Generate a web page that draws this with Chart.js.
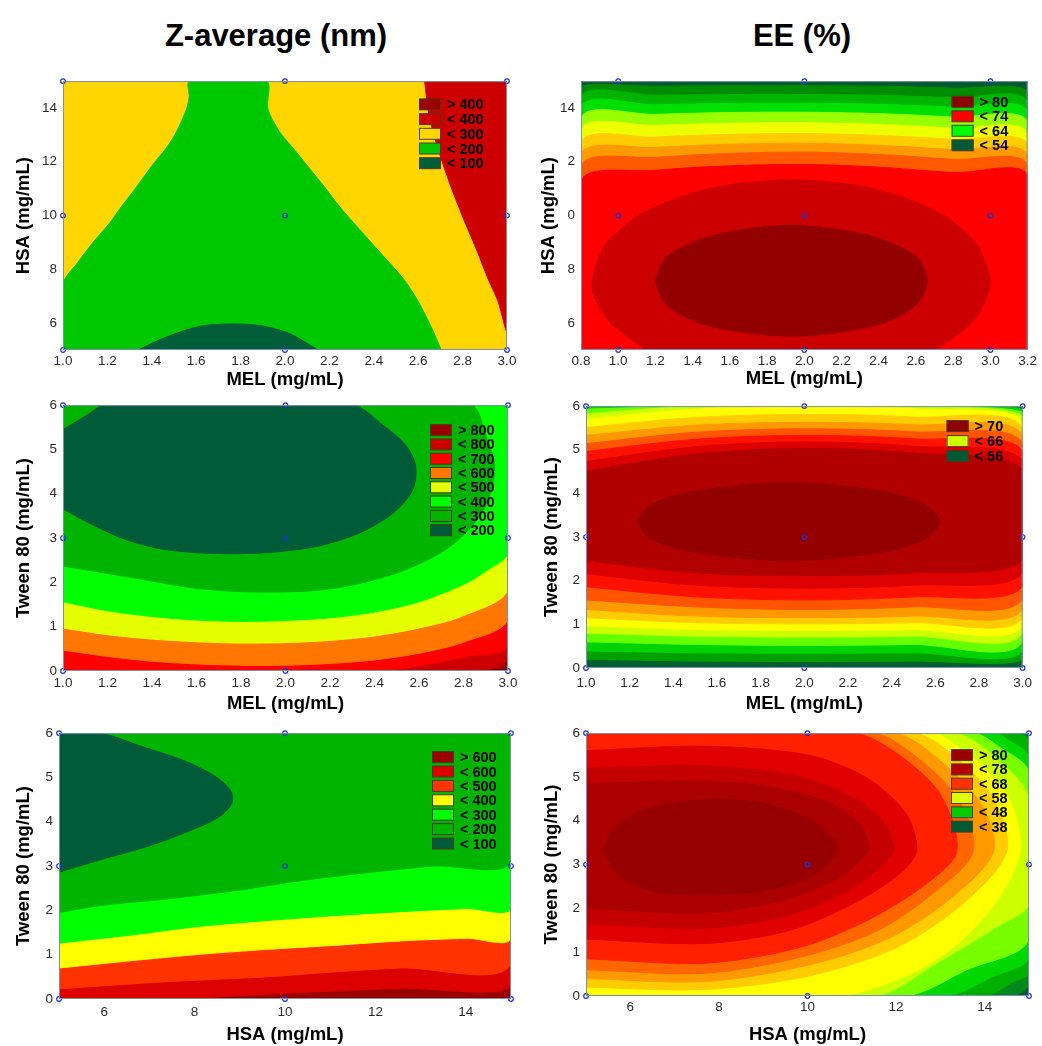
<!DOCTYPE html>
<html>
<head>
<meta charset="utf-8">
<script src="https://cdn.jsdelivr.net/npm/chart.js@4.4.1/dist/chart.umd.min.js"></script>
<style>
  html, body { margin: 0; padding: 0; background: #fff; width: 1042px; height: 1046px; overflow: hidden; position: relative; }
  body { font-family: 'Liberation Sans', Arial, sans-serif; }
  canvas { position: absolute; }
  .title { position: absolute; font-weight: bold; font-size: 31px; color: #000; transform: translate(-50%, -50%); white-space: nowrap; }
</style>
</head>
<body>
<div class="title" style="left:276px;top:36px">Z-average (nm)</div>
<div class="title" style="left:802px;top:36px">EE (%)</div>
<canvas id="cA"></canvas>
<canvas id="cB"></canvas>
<canvas id="cC"></canvas>
<canvas id="cD"></canvas>
<canvas id="cE"></canvas>
<canvas id="cF"></canvas>
<script>
// ---------- data ----------

// A: Z-average, MEL vs HSA
const A_xTicks = [1.0, 1.2, 1.4, 1.6, 1.8, 2.0, 2.2, 2.4, 2.6, 2.8, 3.0];
const A_yTicks = [6, 8, 10, 12, 14];
const A_legend = ['> 400', '< 400', '< 300', '< 200', '< 100'];
const A_design = [[1,5],[2,5],[3,5],[1,10],[2,10],[3,10],[1,15],[2,15],[3,15]];
const A_all = [[1,5],[3,5],[3,15],[1,15]];
const A_green = [[1,5],[1,7.45],[1.068,8.27],[1.135,9.0],[1.21,9.72],[1.263,10.33],[1.33,11.05],[1.405,11.9],
  [1.465,12.51],[1.511,13.11],[1.556,13.96],[1.568,14.4],[1.571,15],[1.916,15],[1.923,13.96],[1.976,13.11],
  [2.036,12.51],[2.096,11.9],[2.179,11.05],[2.246,10.33],[2.336,9.48],[2.441,8.51],[2.532,7.66],[2.599,6.82],
  [2.659,5.85],[2.704,5]];
const A_red = [[2.629,15],[2.644,13.96],[2.667,13.11],[2.727,11.54],[2.80,9.96],[2.862,8.75],[2.914,7.66],
  [2.959,6.82],[3.0,5.73],[3,15]];
const A_dark = [[1.338,5],[1.465,5.48],[1.616,5.88],[1.751,5.97],[1.886,5.91],[2.021,5.61],[2.149,5]];

// B: EE, MEL vs HSA
const B_xTicks = [0.8, 1.0, 1.2, 1.4, 1.6, 1.8, 2.0, 2.2, 2.4, 2.6, 2.8, 3.0, 3.2];
const B_yTicks = [6, 8, 10, 12, 14];
const B_yText = ['6', '8', '0', '2', '14'];
const B_legend = ['> 80', '< 74', '< 64', '< 54'];
const B_design = [[1,5],[2,5],[3,5],[1,10],[2,10],[3,10],[1,15],[2,15],[3,15]];
const B_all = [[0.8,5],[3.2,5],[3.2,15],[0.8,15]];
const B_xs = [0.8, 1.2, 1.6, 2.0, 2.4, 2.8, 3.2];
const B_arcs = [
  [14.76,14.81,14.83,14.83,14.81,14.74,14.58],
  [14.40,14.47,14.50,14.50,14.47,14.38,14.20],
  [14.02,14.12,14.17,14.18,14.14,14.03,13.84],
  [13.62,13.76,13.83,13.84,13.79,13.66,13.46],
  [13.18,13.35,13.43,13.45,13.39,13.25,13.04],
  [12.72,12.92,13.02,13.05,12.98,12.83,12.62],
  [12.28,12.53,12.65,12.69,12.61,12.45,12.24],
  [11.85,12.16,12.31,12.36,12.27,12.09,11.88],
  [11.30,11.68,11.85,11.90,11.80,11.60,11.50]
];
const B_ring = [[1.15,5],[0.96,6],[0.87,7.0],[0.86,7.57],[0.90,8.5],[0.94,9],[1.11,10],[1.34,10.7],[1.56,11.1],
  [1.93,11.33],[2.30,11.1],[2.52,10.7],[2.75,10],[2.92,9],[2.97,8.3],[3.0,7.57],[2.97,6.8],[2.90,6],[2.71,5]];
const B_core = [[1.20,7.57],[1.25,8.4],[1.40,9.0],[1.60,9.4],[1.93,9.64],[2.26,9.4],[2.46,9.0],[2.61,8.4],
  [2.66,7.57],[2.61,6.75],[2.46,6.1],[2.26,5.73],[1.93,5.51],[1.60,5.73],[1.40,6.1],[1.25,6.75],[1.20,7.57]];

// C: Z-average, MEL vs Tween 80
const C_xTicks = [1.0, 1.2, 1.4, 1.6, 1.8, 2.0, 2.2, 2.4, 2.6, 2.8, 3.0];
const C_yTicks = [0, 1, 2, 3, 4, 5, 6];
const C_legend = ['> 800', '< 800', '< 700', '< 600', '< 500', '< 400', '< 300', '< 200'];
const C_design = [[1,0],[2,0],[3,0],[1,3],[2,3],[3,3],[1,6],[2,6],[3,6]];
const C_all = [[1,0],[3,0],[3,6],[1,6]];
const C_lt800 = [[1,0],[2.84,0],[3.0,0.31],[3,6],[1,6]];
const C_lt700 = [[1,0],[2.41,0],[2.6,0.12],[2.8,0.32],[3.0,0.60],[3,6],[1,6]];
const C_lt600 = [[1,0.47],[1.2,0.33],[1.4,0.22],[1.6,0.16],[1.8,0.13],[2.0,0.13],[2.2,0.17],[2.4,0.25],
  [2.6,0.4],[2.8,0.65],[3.0,1.19],[3,6],[1,6]];
const C_lt500 = [[1,0.97],[1.2,0.82],[1.4,0.72],[1.6,0.66],[1.8,0.63],[2.0,0.64],[2.2,0.69],[2.4,0.79],
  [2.6,0.97],[2.8,1.25],[3.0,1.86],[3,6],[1,6]];
const C_lt400 = [[1,1.56],[1.2,1.36],[1.4,1.23],[1.6,1.15],[1.8,1.12],[2.0,1.14],[2.2,1.2],[2.4,1.33],
  [2.6,1.56],[2.8,1.95],[2.9,2.25],[3.0,2.68],[3,6],[1,6]];
const C_lt300 = [[1,2.37],[1.31,2.11],[1.61,1.86],[1.91,1.78],[2.21,1.86],[2.51,2.23],[2.74,2.81],[2.89,3.63],
  [2.94,4.58],[2.90,5.3],[2.83,6],[1,6]];
const C_lt200 = [[1,3.66],[1.12,3.33],[1.285,2.96],[1.46,2.74],[1.69,2.65],[1.91,2.67],[2.14,2.81],[2.33,3.11],
  [2.48,3.55],[2.57,4.07],[2.585,4.62],[2.54,5.10],[2.44,5.54],[2.30,6],[1.19,6],[1.1,5.75],[1,5.45]];

// D: EE, MEL vs Tween 80
const D_xTicks = [1.0, 1.2, 1.4, 1.6, 1.8, 2.0, 2.2, 2.4, 2.6, 2.8, 3.0];
const D_yTicks = [0, 1, 2, 3, 4, 5, 6];
const D_legend = ['> 70', '< 66', '< 56'];
const D_design = [[1,0],[2,0],[3,0],[1,3],[2,3],[3,3],[1,6],[2,6],[3,6]];
const D_all = [[1,0],[3,0],[3,6],[1,6]];
const D_xs = [1.0, 1.5, 2.0, 2.5, 3.0];
const D_lower = [
  [0.20,0.16,0.15,0.16,0.21],
  [0.39,0.35,0.34,0.35,0.40],
  [0.60,0.54,0.52,0.54,0.61],
  [0.80,0.73,0.71,0.73,0.81],
  [0.97,0.88,0.86,0.88,0.98],
  [1.15,1.04,1.01,1.04,1.16],
  [1.34,1.19,1.15,1.19,1.35],
  [1.56,1.40,1.34,1.40,1.57],
  [1.86,1.63,1.56,1.63,1.87],
  [2.16,1.90,1.83,1.90,2.17],
  [2.46,2.18,2.12,2.18,2.47]
];
const D_upper = [
  [6.00,6.00,6.00,6.00,6.00],
  [6.00,6.00,6.00,6.00,5.93],
  [5.93,6.00,6.00,6.00,5.85],
  [5.82,6.00,6.00,6.00,5.76],
  [5.70,5.93,6.00,5.94,5.66],
  [5.51,5.74,5.81,5.75,5.50],
  [5.33,5.56,5.63,5.57,5.34],
  [5.14,5.40,5.48,5.41,5.16],
  [4.96,5.24,5.33,5.25,4.98],
  [4.73,5.07,5.18,5.08,4.76],
  [4.51,4.90,5.03,4.92,4.55]
];
const D_core = [[1.23,3.35],[1.30,3.75],[1.50,4.05],[1.93,4.25],[2.35,4.05],[2.55,3.75],[2.62,3.35],[2.55,2.95],
  [2.35,2.65],[1.93,2.46],[1.50,2.65],[1.30,2.95],[1.23,3.35]];

// E: Z-average, HSA vs Tween 80
const E_xTicks = [6, 8, 10, 12, 14];
const E_yTicks = [0, 1, 2, 3, 4, 5, 6];
const E_legend = ['> 600', '< 600', '< 500', '< 400', '< 300', '< 200', '< 100'];
const E_design = [[5,0],[10,0],[15,0],[5,3],[10,3],[15,3],[5,6],[10,6],[15,6]];
const E_all = [[5,0],[15,0],[15,6],[5,6]];
const E_lt600 = [[5,0],[7.54,0],[9.6,0.11],[11.08,0.18],[12.55,0.24],[15,0.30],[15,6],[5,6]];
const E_lt500 = [[5,0.23],[7.39,0.39],[9.6,0.50],[11.08,0.61],[12.55,0.70],[15,0.79],[15,6],[5,6]];
const E_lt400 = [[5,0.70],[6.65,0.87],[8.13,1.01],[9.6,1.12],[11.08,1.21],[12.55,1.31],[14.03,1.37],[15,1.38],[15,6],[5,6]];
const E_lt300 = [[5,1.26],[6.65,1.45],[8.13,1.64],[9.6,1.77],[11.08,1.88],[12.55,1.97],[14.03,2.04],[15,2.06],[15,6],[5,6]];
const E_lt200 = [[5,1.95],[5.91,2.11],[7.39,2.26],[8.86,2.44],[10.34,2.67],[11.81,2.85],[13.29,3.0],[15,3.08],[15,6],[5,6]];
const E_lt100 = [[5,2.86],[5.91,3.14],[6.95,3.44],[7.83,3.77],[8.53,4.10],[8.83,4.43],[8.79,4.72],[8.42,5.05],
  [7.76,5.38],[6.8,5.71],[5.91,6],[5,6]];

// F: EE, HSA vs Tween 80
const F_xTicks = [6, 8, 10, 12, 14];
const F_yTicks = [0, 1, 2, 3, 4, 5, 6];
const F_legend = ['> 80', '< 78', '< 68', '< 58', '< 48', '< 38'];
const F_design = [[5,0],[10,0],[15,0],[5,3],[10,3],[15,3],[5,6],[10,6],[15,6]];
const F_regions = [
  [[5,0],[15,0],[15,6],[5,6]],
  [[5,0],[14.6,0],[15,0.3],[15,6],[5,6]],
  [[5,0],[14.0,0],[14.6,0.3],[15,0.55],[15,5.8],[14.65,6],[5,6]],
  [[5,0],[13.1,0],[14.2,0.45],[15,0.9],[15,5.45],[14.6,5.8],[14.2,6],[5,6]],
  [[5,0],[12.2,0],[13.6,0.6],[15,1.3],[15,5.1],[14.3,5.7],[13.74,6],[5,6]],
  [[5,0],[11.5,0],[13,0.8],[14.3,1.6],[15,2.1],[15,4.5],[14.4,5.3],[13.29,6],[5,6]],
  [[5,0],[10.7,0],[12.3,0.5],[13.4,1.2],[14.3,2.2],[14.8,3.3],[14.6,4.4],[14.0,5.2],[13.3,5.75],[12.84,6],[5,6]],
  [[5,0.2],[7.7,0.15],[10,0.45],[12,1.1],[13.5,2.1],[14.5,3.3],[14.2,4.5],[13.4,5.4],[12.39,6],[5,6]],
  [[5,0.4],[7.7,0.33],[10,0.7],[11.8,1.3],[13.2,2.2],[14.2,3.3],[13.9,4.4],[12.9,5.45],[11.94,6],[5,6]],
  [[5,0.6],[7.7,0.52],[9.9,0.9],[11.6,1.5],[12.9,2.4],[13.74,3.3],[13.4,4.5],[12.4,5.5],[11.49,6],[5,6]],
  [[5,0.85],[7.7,0.75],[9.8,1.1],[11.3,1.7],[12.6,2.5],[13.37,3.3],[13.0,4.6],[12.0,5.55],[11.04,6],[5,6]],
  [[5,1.3],[7.7,1.2],[9.6,1.5],[11.2,2.2],[12.2,2.9],[12.47,3.37],[12.2,4.2],[11.3,5.0],[10,5.5],[7.7,5.7],[5,5.6]],
  [[5,1.65],[7.7,1.55],[9.6,1.85],[10.9,2.4],[11.7,3.0],[11.94,3.37],[11.7,4.0],[10.9,4.6],[9.6,5.05],[7.7,5.25],[5,5.2]],
  [[5,2.0],[7.7,1.9],[9.5,2.2],[10.7,2.7],[11.3,3.2],[11.38,3.37],[11.2,3.9],[10.5,4.4],[9.3,4.75],[7.7,4.9],[5,4.85]],
  [[5.38,3.37],[5.7,3.9],[6.5,4.3],[7.7,4.48],[9,4.4],[10.1,4.0],[10.66,3.4],[10.2,2.8],[9,2.4],[7.7,2.32],
   [6.5,2.4],[5.7,2.8],[5.38,3.37]]
];

// ---------- colours ----------
const A_colors = ['#ffd600', '#00c800', '#cc0000', '#005e38'];
const A_keyColors = ['#990000', '#cc0000', '#ffd600', '#00c800', '#005e38'];
const B_colors = ['#005a30', '#008c00', '#00b400', '#00e000', '#99ff00', '#eeff00', '#ffcc00', '#ff9900',
  '#ff5a00', '#ff0000', '#cc0000', '#930000'];
const B_keyColors = ['#8e0000', '#ff0000', '#00ff00', '#005a35'];
const C_colors = ['#990000', '#cc0000', '#ff0000', '#ff7700', '#e5ff00', '#00ff00', '#00b400', '#005c38'];
const D_colors = ['#006030', '#00a000', '#00d400', '#66ff00', '#ccff00', '#ffff00', '#ffcc00', '#ff9900',
  '#ff5500', '#ff1100', '#dd0000', '#b00000', '#930000'];
const D_keyColors = ['#8e0000', '#ccff00', '#005a35'];
const E_colors = ['#990000', '#dd0000', '#ff3300', '#ffff00', '#00ff00', '#00b400', '#005c38'];
const F_colors = ['#005a32', '#008a1e', '#00b000', '#00d800', '#77ff00', '#ccff00', '#ffff00', '#ffcc00',
  '#ff9900', '#ff6600', '#ff2000', '#e00000', '#c40000', '#aa0000', '#960000'];
const F_keyColors = ['#990000', '#b30000', '#ff3300', '#ddff00', '#00cc00', '#005a35'];

// ---------- build ----------
Chart.defaults.font.family = "'Liberation Sans', Arial, sans-serif";
Chart.defaults.color = '#2b2b2b';

const underArc = (xs, arc, base) =>
  [[xs[0], base]].concat(xs.map((x, i) => [x, arc[i]]), [[xs[xs.length - 1], base]]);
const between = (xs, lo, hi) =>
  xs.map((x, i) => [x, lo[i]]).concat(xs.map((x, i) => [x, hi[i]]).reverse());

const decor = {
  id: 'decor',
  afterDatasetsDraw(chart, args, o) {
    const {ctx, chartArea: a} = chart;
    ctx.save();
    ctx.strokeStyle = '#7d8fb0';
    ctx.lineWidth = 1;
    ctx.strokeRect(a.left + 0.5, a.top + 0.5, a.width - 1, a.height - 1);
    const x0 = a.right + o.dx, y0 = a.top + o.dy;
    ctx.font = "bold 14.5px 'Liberation Sans', Arial, sans-serif";
    ctx.textBaseline = 'middle';
    o.labels.forEach((lab, i) => {
      const y = y0 + i * o.step;
      ctx.fillStyle = o.colors[i];
      ctx.fillRect(x0, y - 5.5, 22, 11);
      ctx.strokeStyle = '#4b3b1b';
      ctx.strokeRect(x0 + 0.5, y - 5.5, 21, 11);
      ctx.fillStyle = '#000';
      ctx.fillText(lab, x0 + 28, y + 1);
    });
    ctx.restore();
  }
};

const xy = pts => pts.map(([x, y]) => ({x, y}));

function panel(p) {
  const cv = document.getElementById(p.id);
  const [left, top, w, h] = p.box;
  cv.width = w; cv.height = h;
  cv.style.left = left + 'px';
  cv.style.top = top + 'px';
  const n = p.regions.length;
  // Chart.js paints higher "order" first, so the outer bands get the larger numbers
  const datasets = p.regions.map((r, i) => ({
    data: xy(r), showLine: true, fill: 'shape', tension: 0.3, order: n - i + 1,
    backgroundColor: p.colors[i], borderColor: p.colors[i], borderWidth: 1, pointRadius: 0
  }));
  datasets.push({
    data: xy(p.design), showLine: false, pointRadius: 2.3, pointBorderWidth: 1.2, order: 0,
    pointBorderColor: '#2233cc', pointBackgroundColor: 'rgba(0,0,0,0)', clip: false
  });
  new Chart(cv, {
    type: 'scatter',
    data: {datasets},
    options: {
      responsive: false, animation: false, events: [],
      layout: {padding: {left: 0, top: 8, right: p.padR, bottom: 0}},
      plugins: {
        legend: {display: false}, tooltip: {enabled: false},
        decor: {labels: p.legend, colors: p.keyColors, dx: p.key[0], dy: p.key[1], step: p.key[2]}
      },
      scales: {
        x: {
          type: 'linear', min: p.xr[0], max: p.xr[1],
          grid: {display: false, drawTicks: false}, border: {display: false},
          ticks: {font: {size: 13.5}, padding: p.xPad, autoSkip: false, maxRotation: 0, callback: p.xFmt},
          title: {display: true, text: p.xTitle, color: '#000', font: {size: 18.5, weight: 'bold'}, padding: 0},
          afterBuildTicks: s => { s.ticks = p.xTicks.map(v => ({value: v})); },
          afterFit: s => { s.height = p.axH; }
        },
        y: {
          type: 'linear', min: p.yr[0], max: p.yr[1],
          grid: {display: false, drawTicks: false}, border: {display: false},
          ticks: {font: {size: 13.5}, padding: 6, autoSkip: false, callback: p.yFmt},
          title: {display: true, text: p.yTitle, color: '#000', font: {size: 18.5, weight: 'bold'}, padding: 0},
          afterBuildTicks: s => { s.ticks = p.yTicks.map(v => ({value: v})); },
          afterFit: s => { s.width = p.axW; }
        }
      }
    },
    plugins: [decor]
  });
}

const oneDec = v => v.toFixed(1);
const plain = v => String(v);

panel({
  id: 'cA', box: [13, 67, 508, 324], axW: 50, axH: 41, padR: 14, xPad: 3,
  xr: [1, 3], yr: [5, 15], xTicks: A_xTicks, yTicks: A_yTicks, xFmt: oneDec, yFmt: plain,
  xTitle: 'MEL (mg/mL)', yTitle: 'HSA (mg/mL)',
  regions: [A_all, A_green, A_red, A_dark], colors: A_colors,
  legend: A_legend, keyColors: A_keyColors, key: [-88, 23.3, 14.7], design: A_design
});

panel({
  id: 'cB', box: [538, 67, 502, 323], axW: 43, axH: 40, padR: 10, xPad: 3,
  xr: [0.8, 3.2], yr: [5, 15], xTicks: B_xTicks, yTicks: B_yTicks, xFmt: oneDec,
  yFmt: v => B_yText[B_yTicks.indexOf(v)],
  xTitle: 'MEL (mg/mL)', yTitle: 'HSA (mg/mL)',
  regions: [B_all].concat(B_arcs.map(a => underArc(B_xs, a, 5)), [B_ring, B_core]), colors: B_colors,
  legend: B_legend, keyColors: B_keyColors, key: [-76, 20.7, 14.5], design: B_design
});

panel({
  id: 'cC', box: [13, 391, 509, 324], axW: 50, axH: 44, padR: 14, xPad: 4.5,
  xr: [1, 3], yr: [0, 6], xTicks: C_xTicks, yTicks: C_yTicks, xFmt: oneDec, yFmt: plain,
  xTitle: 'MEL (mg/mL)', yTitle: 'Tween 80 (mg/mL)',
  regions: [C_all, C_lt800, C_lt700, C_lt600, C_lt500, C_lt400, C_lt300, C_lt200], colors: C_colors,
  legend: C_legend, keyColors: C_colors, key: [-78, 25, 14.3], design: C_design
});

panel({
  id: 'cD', box: [541, 392, 498, 323], axW: 45, axH: 47, padR: 10, xPad: 7,
  xr: [1, 3], yr: [0, 6], xTicks: D_xTicks, yTicks: D_yTicks, xFmt: oneDec, yFmt: plain,
  xTitle: 'MEL (mg/mL)', yTitle: 'Tween 80 (mg/mL)',
  regions: [D_all].concat(D_lower.map((lo, k) => between(D_xs, lo, D_upper[k])), [D_core]), colors: D_colors,
  legend: D_legend, keyColors: D_keyColors, key: [-76, 20, 15], design: D_design
});

panel({
  id: 'cE', box: [13, 719, 512, 327], axW: 46, axH: 47, padR: 14, xPad: 5.5,
  xr: [5, 15], yr: [0, 6], xTicks: E_xTicks, yTicks: E_yTicks, xFmt: plain, yFmt: plain,
  xTitle: 'HSA (mg/mL)', yTitle: 'Tween 80 (mg/mL)',
  regions: [E_all, E_lt600, E_lt500, E_lt400, E_lt300, E_lt200, E_lt100], colors: E_colors,
  legend: E_legend, keyColors: E_colors, key: [-79, 24, 14.4], design: E_design
});

panel({
  id: 'cF', box: [541, 719, 498, 327], axW: 45, axH: 50, padR: 10, xPad: 3.5,
  xr: [5, 15], yr: [0, 6], xTicks: F_xTicks, yTicks: F_yTicks, xFmt: plain, yFmt: plain,
  xTitle: 'HSA (mg/mL)', yTitle: 'Tween 80 (mg/mL)',
  regions: F_regions, colors: F_colors,
  legend: F_legend, keyColors: F_keyColors, key: [-78, 22, 14.3], design: F_design
});
</script>
</body>
</html>
